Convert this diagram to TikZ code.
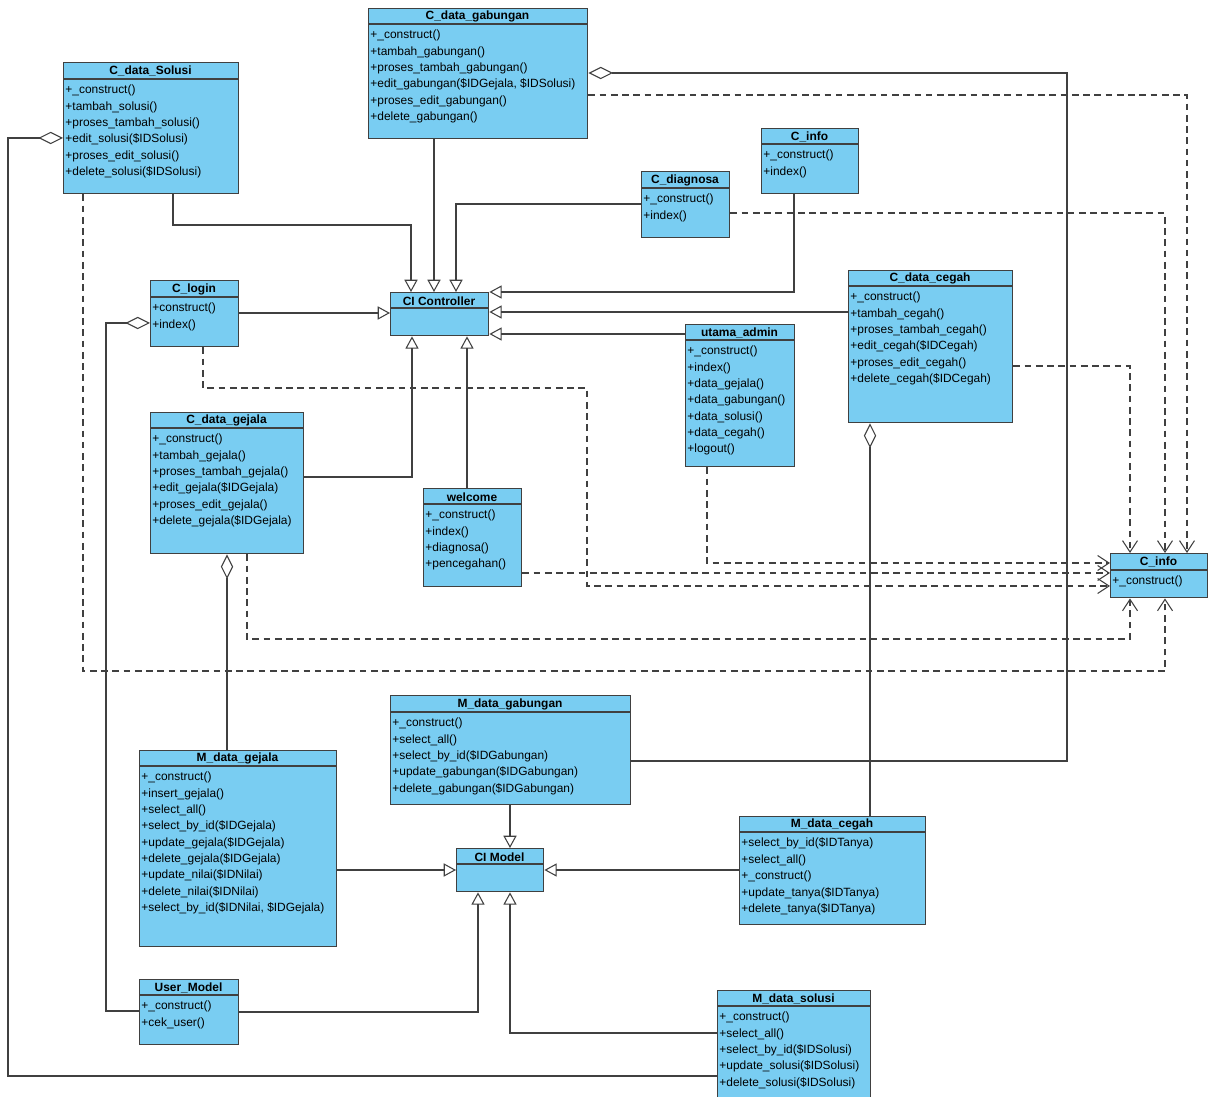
\documentclass[tikz,border=0pt]{standalone}
\usepackage{fontspec}
\setmainfont{Liberation Sans}
\usepackage{tikz}
\usetikzlibrary{arrows.meta}
\definecolor{classblue}{RGB}{121,205,242}
\definecolor{linegray}{RGB}{64,64,64}
\tikzset{classbox/.style={draw=linegray,line width=0.8pt,fill=classblue,anchor=north west,inner sep=0pt}}
\tikzset{classtitle/.style={font=\fontsize{6.8}{8}\selectfont\bfseries,inner sep=0pt}}
\tikzset{classops/.style={font=\fontsize{6.8}{9.3}\selectfont,align=left,anchor=north west,inner xsep=1.2pt,inner ysep=3.3pt}}
\tikzset{gen/.style={draw=linegray,line width=0.6pt,-{Triangle[open,length=7pt,width=7.5pt]}}}
\tikzset{agg/.style={draw=linegray,line width=0.6pt,{Diamond[open,length=14pt,width=7pt]}-}}
\tikzset{dep/.style={draw=linegray,line width=0.6pt,dash pattern=on 3.8pt off 2.6pt,-{Straight Barb[length=6.5pt,width=8.5pt]}}}
% name, x, y, width, height, title height, title, operations
\newcommand{\umlclass}[8]{%
  \node[classbox,minimum width=#4*0.02cm,minimum height=#5*0.02cm] (#1) at (#2,#3) {};
  \draw[linegray,line width=0.8pt] (#1.north west) ++(0,#6) -- ++(#4,0);
  \node[classtitle] (#1t) at (#2+#4/2,#3+#6/2+0.8) {#7};
  \node[classops] (#1o) at (#2,#3+#6) {#8};
}
\begin{document}
\begin{tikzpicture}[x=0.02cm,y=-0.02cm]
\useasboundingbox (0,0) rectangle (1210,1097);
\fill[white] (0,0) rectangle (1210,1097);
% controllers
\umlclass{csol}{63}{62}{175}{131}{17}{C\_data\_Solusi}{+\_construct()\\+tambah\_solusi()\\+proses\_tambah\_solusi()\\+edit\_solusi(\$IDSolusi)\\+proses\_edit\_solusi()\\+delete\_solusi(\$IDSolusi)}
\umlclass{cgab}{368}{8}{219}{130}{16}{C\_data\_gabungan}{+\_construct()\\+tambah\_gabungan()\\+proses\_tambah\_gabungan()\\+edit\_gabungan(\$IDGejala, \$IDSolusi)\\+proses\_edit\_gabungan()\\+delete\_gabungan()}
\umlclass{cinfoa}{761}{128}{97}{65}{16}{C\_info}{+\_construct()\\+index()}
\umlclass{cdiag}{641}{171}{88}{66}{17}{C\_diagnosa}{+\_construct()\\+index()}
\umlclass{clogin}{150}{280}{88}{66}{17}{C\_login}{+construct()\\+index()}
\umlclass{ctrl}{390}{292}{98}{43}{16}{CI Controller}{}
\umlclass{ccegah}{848}{270}{164}{152}{16}{C\_data\_cegah}{+\_construct()\\+tambah\_cegah()\\+proses\_tambah\_cegah()\\+edit\_cegah(\$IDCegah)\\+proses\_edit\_cegah()\\+delete\_cegah(\$IDCegah)}
\umlclass{uadmin}{685}{324}{109}{142}{16}{utama\_admin}{+\_construct()\\+index()\\+data\_gejala()\\+data\_gabungan()\\+data\_solusi()\\+data\_cegah()\\+logout()}
\umlclass{cgej}{150}{412}{153}{141}{16}{C\_data\_gejala}{+\_construct()\\+tambah\_gejala()\\+proses\_tambah\_gejala()\\+edit\_gejala(\$IDGejala)\\+proses\_edit\_gejala()\\+delete\_gejala(\$IDGejala)}
\umlclass{welcome}{423}{488}{98}{98}{16}{welcome}{+\_construct()\\+index()\\+diagnosa()\\+pencegahan()}
\umlclass{cinfob}{1110}{553}{97}{44}{17}{C\_info}{+\_construct()}
% models
\umlclass{mgab}{390}{695}{240}{109}{17}{M\_data\_gabungan}{+\_construct()\\+select\_all()\\+select\_by\_id(\$IDGabungan)\\+update\_gabungan(\$IDGabungan)\\+delete\_gabungan(\$IDGabungan)}
\umlclass{mgej}{139}{750}{197}{196}{16}{M\_data\_gejala}{+\_construct()\\+insert\_gejala()\\+select\_all()\\+select\_by\_id(\$IDGejala)\\+update\_gejala(\$IDGejala)\\+delete\_gejala(\$IDGejala)\\+update\_nilai(\$IDNilai)\\+delete\_nilai(\$IDNilai)\\+select\_by\_id(\$IDNilai, \$IDGejala)}
\umlclass{cmodel}{456}{848}{87}{43}{16}{CI Model}{}
\umlclass{mcegah}{739}{816}{186}{108}{16}{M\_data\_cegah}{+select\_by\_id(\$IDTanya)\\+select\_all()\\+\_construct()\\+update\_tanya(\$IDTanya)\\+delete\_tanya(\$IDTanya)}
\umlclass{umodel}{139}{979}{99}{65}{16}{User\_Model}{+\_construct()\\+cek\_user()}
\umlclass{msol}{717}{990}{153}{110}{16}{M\_data\_solusi}{+\_construct()\\+select\_all()\\+select\_by\_id(\$IDSolusi)\\+update\_solusi(\$IDSolusi)\\+delete\_solusi(\$IDSolusi)}
%
\draw[gen] (csol.south -| 173,0) |- (411,225) -- (ctrl.north -| 411,0);
\draw[gen] (cgab.south -| 434,0) -- (ctrl.north -| 434,0);
\draw[gen] (cdiag.west |- 0,204) -| (ctrl.north -| 456,0);
\draw[gen] (cinfoa.south -| 794,0) |- (ctrl.east |- 0,292);
\draw[gen] (ccegah.west |- 0,312) -- (ctrl.east |- 0,312);
\draw[gen] (uadmin.west |- 0,334) -- (ctrl.east |- 0,334);
\draw[gen] (clogin.east |- 0,313) -- (ctrl.west |- 0,313);
\draw[gen] (cgej.east |- 0,477) -| (ctrl.south -| 412,0);
\draw[gen] (welcome.north -| 467,0) -- (ctrl.south -| 467,0);
%
\draw[gen] (mgab.south -| 510,0) -- (cmodel.north -| 510,0);
\draw[gen] (mgej.east |- 0,870) -- (cmodel.west |- 0,870);
\draw[gen] (mcegah.west |- 0,870) -- (cmodel.east |- 0,870);
\draw[gen] (umodel.east |- 0,1012) -| (cmodel.south -| 478,0);
\draw[gen] (msol.west |- 0,1033) -| (cmodel.south -| 510,0);
%
\draw[agg] (cgab.east |- 0,73) -| (1067,761) -- (mgab.east |- 0,761);
\draw[agg] (csol.west |- 0,138) -| (8,1076) -- (msol.west |- 0,1076);
\draw[agg] (clogin.west |- 0,323) -| (106,1011) -- (umodel.west |- 0,1011);
\draw[agg] (cgej.south -| 227,0) -- (mgej.north -| 227,0);
\draw[agg] (ccegah.south -| 870,0) -- (mcegah.north -| 870,0);
%
\draw[dep] (cgab.east |- 0,95) -| (cinfob.north -| 1187,0);
\draw[dep] (cdiag.east |- 0,213) -| (cinfob.north -| 1165,0);
\draw[dep] (ccegah.east |- 0,366) -| (cinfob.north -| 1130,0);
\draw[dep] (uadmin.south -| 707,0) |- (cinfob.west |- 0,563);
\draw[dep] (welcome.east |- 0,573) -- (cinfob.west |- 0,573);
\draw[dep] (clogin.south -| 203,0) |- (587,388) |- (cinfob.west |- 0,586);
\draw[dep] (cgej.south -| 247,0) |- (1130,639) -- (cinfob.south -| 1130,0);
\draw[dep] (csol.south -| 83,0) |- (1165,671) -- (cinfob.south -| 1165,0);
\end{tikzpicture}
\end{document}
